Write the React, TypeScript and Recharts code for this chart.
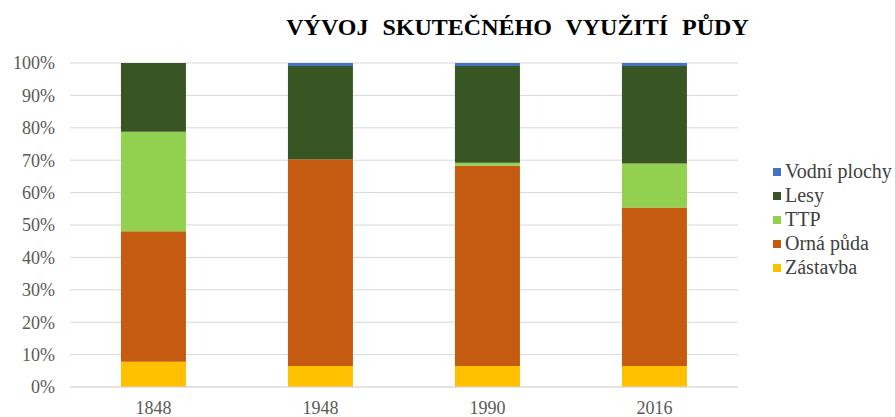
import { BarChart, Bar, XAxis, YAxis, CartesianGrid } from 'recharts';

const years = ['1848', '1948', '1990', '2016'];
const zastavba = [7.8, 6.5, 6.5, 6.5];
const ornaPuda = [40.3, 63.8, 61.8, 48.9];
const ttp = [30.7, 0, 0.9, 13.6];
const lesy = [21.2, 28.8, 29.9, 30.1];
const vodniPlochy = [0, 0.9, 0.9, 0.9];
const yTicks = [0, 10, 20, 30, 40, 50, 60, 70, 80, 90, 100];

const series = [
  { key: 'zastavba', name: 'Zástavba', color: '#FFC000', values: zastavba },
  { key: 'orna', name: 'Orná půda', color: '#C55A11', values: ornaPuda },
  { key: 'ttp', name: 'TTP', color: '#92D050', values: ttp },
  { key: 'lesy', name: 'Lesy', color: '#375623', values: lesy },
  { key: 'vodni', name: 'Vodní plochy', color: '#4472C4', values: vodniPlochy },
];

const data = years.map((year, i) => {
  const row: Record<string, string | number> = { year };
  series.forEach((s) => {
    row[s.key] = s.values[i];
  });
  return row;
});

const font = 'Liberation Serif, serif';

// legend drawn by hand so the order (top to bottom) matches the original
function LegendBox() {
  return (
    <svg width={122} height={120} style={{ display: 'block' }}>
      {[...series].reverse().map((s, i) => (
        <g key={s.key}>
          <rect x={0} y={i * 24 + 8} width={8} height={8} fill={s.color} />
          <text
            x={12}
            y={i * 24 + 18}
            fontFamily={font}
            fontSize={20}
            fill="#404040"
          >
            {s.name}
          </text>
        </g>
      ))}
    </svg>
  );
}

export default function App() {
  return (
    <div
      style={{
        position: 'absolute',
        left: 0,
        top: 0,
        width: 895,
        height: 417,
        background: '#fff',
      }}
    >
      <div
        style={{
          position: 'absolute',
          left: 230,
          top: 14,
          width: 575,
          textAlign: 'center',
          fontFamily: font,
          fontWeight: 'bold',
          fontSize: 24,
          wordSpacing: 8,
          color: '#000',
          whiteSpace: 'nowrap',
        }}
      >
        VÝVOJ SKUTEČNÉHO VYUŽITÍ PŮDY
      </div>
      <div style={{ position: 'absolute', left: 773, top: 160 }}>
        <LegendBox />
      </div>
      <BarChart
        width={895}
        height={417}
        data={data}
        margin={{ top: 63, right: 157, bottom: 0, left: 0 }}
        barCategoryGap="30.5%"
      >
        <CartesianGrid vertical={false} stroke="#d9d9d9" />
        <XAxis
          dataKey="year"
          height={30}
          axisLine={{ stroke: '#d9d9d9' }}
          tickLine={false}
          tickMargin={8}
          tick={{ fontFamily: font, fontSize: 18, fill: '#595959' }}
        />
        <YAxis
          width={70}
          domain={[0, 100]}
          ticks={yTicks}
          axisLine={false}
          tickLine={false}
          tickMargin={9}
          tickFormatter={(v) => `${v}%`}
          tick={{ fontFamily: font, fontSize: 18, fill: '#595959' }}
        />
        {series.map((s) => (
          <Bar
            key={s.key}
            dataKey={s.key}
            name={s.name}
            stackId="a"
            fill={s.color}
            isAnimationActive={false}
          />
        ))}
      </BarChart>
    </div>
  );
}
